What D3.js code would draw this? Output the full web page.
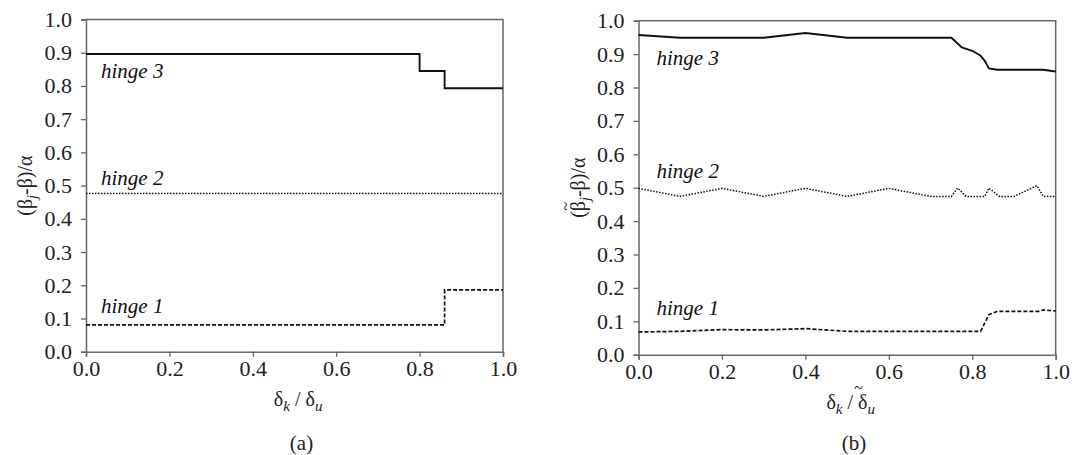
<!DOCTYPE html>
<html>
<head>
<meta charset="utf-8">
<script src="https://cdn.jsdelivr.net/npm/d3@7"></script>
</head>
<body style="margin:0">
<svg width="1072" height="455" font-family="Liberation Serif"></svg>
<script>
// panel (a): step curves
const aHinge3X = [0, 0.8, 0.8, 0.86, 0.86, 1.0];
const aHinge3Y = [0.896, 0.896, 0.845, 0.845, 0.793, 0.793];
const aHinge2X = [0, 1.0];
const aHinge2Y = [0.476, 0.476];
const aHinge1X = [0, 0.86, 0.86, 1.0];
const aHinge1Y = [0.081, 0.081, 0.186, 0.186];

// panel (b)
const bHinge3X = [0, 0.1, 0.3, 0.4, 0.5, 0.75, 0.775, 0.8, 0.82, 0.83, 0.84, 0.86, 0.97, 1.0];
const bHinge3Y = [0.957, 0.949, 0.949, 0.963, 0.949, 0.949, 0.92, 0.91, 0.895, 0.88, 0.857, 0.853, 0.853, 0.848];
const bHinge2X = [0, 0.1, 0.2, 0.3, 0.4, 0.5, 0.6, 0.7, 0.75, 0.765, 0.785, 0.83, 0.84, 0.865, 0.9, 0.955, 0.97, 1.0];
const bHinge2Y = [0.498, 0.474, 0.498, 0.474, 0.498, 0.474, 0.498, 0.474, 0.474, 0.499, 0.474, 0.474, 0.499, 0.474, 0.474, 0.506, 0.474, 0.474];
const bHinge1X = [0, 0.1, 0.2, 0.3, 0.4, 0.5, 0.6, 0.82, 0.84, 0.86, 0.96, 0.97, 1.0];
const bHinge1Y = [0.068, 0.07, 0.075, 0.074, 0.078, 0.07, 0.07, 0.07, 0.12, 0.13, 0.13, 0.134, 0.131];

const yTicks = [0, 0.1, 0.2, 0.3, 0.4, 0.5, 0.6, 0.7, 0.8, 0.9, 1.0];
const xTicks = [0, 0.2, 0.4, 0.6, 0.8, 1.0];

const svg = d3.select("svg");
const axisColor = "#666";
const serif = "Liberation Serif";
const textColor = "#222";

const font = (sel, size) =>
  sel.attr("font-family", serif).style("font-family", "'" + serif + "'").style("font-size", size + "px");

// width of a string in the label font, to place the tilde marks
const measure = (str, size) => {
  const t = svg.append("text").call(font, size).text(str);
  const w = t.node().getComputedTextLength();
  t.remove();
  return w;
};

const tilde = (g, x, y, transform) => {
  g.append("text")
    .attr("transform", transform)
    .attr("x", x)
    .attr("y", y)
    .attr("text-anchor", "middle")
    .attr("fill", textColor)
    .call(font, 16)
    .text("~");
};

const drawPanel = (p) => {
  const xScale = d3.scaleLinear().domain([0, 1]).range([p.left, p.right]);
  const yScale = d3.scaleLinear().domain([0, 1]).range([p.bottom, p.top]);
  const g = svg.append("g");

  // frame (top + right)
  g.append("path")
    .attr("d", "M" + p.left + "," + p.top + "H" + p.right + "V" + p.bottom)
    .attr("fill", "none")
    .attr("stroke", axisColor)
    .attr("stroke-width", 1.5);

  const xAxis = d3.axisBottom(xScale).tickValues(xTicks).tickFormat(d3.format(".1f")).tickSize(5).tickPadding(4);
  const gx = g.append("g").attr("transform", "translate(0," + p.bottom + ")").call(xAxis);
  const yAxis = d3.axisLeft(yScale).tickValues(yTicks).tickFormat(d3.format(".1f")).tickSize(5).tickPadding(9);
  const gy = g.append("g").attr("transform", "translate(" + p.left + ",0)").call(yAxis);
  [gx, gy].forEach((a) => {
    a.attr("font-family", serif).attr("font-size", 22);
    a.select(".domain").attr("stroke", axisColor).attr("stroke-width", 1.5);
    a.selectAll(".tick line").attr("stroke", axisColor).attr("stroke-width", 1.3);
    a.selectAll(".tick text").attr("fill", textColor).call(font, 22);
  });
  gx.selectAll(".tick text").attr("y", 9);

  const line = d3.line().x((d) => xScale(d[0])).y((d) => yScale(d[1]));
  const series = [
    { x: p.h3x, y: p.h3y, dash: null, w: 1.9 },
    { x: p.h2x, y: p.h2y, dash: "1.5,1.5", w: 1.5 },
    { x: p.h1x, y: p.h1y, dash: "4,2", w: 1.7 },
  ];
  series.forEach((s) => {
    g.append("path")
      .datum(d3.zip(s.x, s.y))
      .attr("d", line)
      .attr("fill", "none")
      .attr("stroke", "#111")
      .attr("stroke-width", s.w)
      .attr("stroke-dasharray", s.dash);
  });

  p.labels.forEach((l) => {
    g.append("text")
      .attr("x", p.left + p.labelDx)
      .attr("y", l[1])
      .call(font, 21)
      .attr("font-style", "italic")
      .style("font-style", "italic")
      .attr("fill", "#111")
      .text(l[0]);
  });

  // y label, built left to right so the tilde spot is known
  const ylT = "translate(" + p.yLabelX + "," + (p.top + p.bottom) / 2 + ") rotate(-90)";
  const total = measure("(β-β)/α", 20) + measure("j", 14);
  const x0 = -total / 2;
  const yl = g.append("text")
    .attr("transform", ylT)
    .attr("x", x0)
    .call(font, 20)
    .attr("fill", textColor);
  yl.append("tspan").text("(β");
  yl.append("tspan").attr("dy", 5).style("font-size", "14px").style("font-style", "italic").text("j");
  yl.append("tspan").attr("dy", -5).text("-β)/α");
  if (p.tilde) tilde(g, x0 + measure("(", 20) + measure("β", 20) / 2, -14, ylT);

  // x label
  const xTotal = measure("δ / δ", 20) + measure("ku", 15);
  const xx0 = (p.left + p.right) / 2 + 4 - xTotal / 2;
  const xy = p.bottom + 54;
  const xl = g.append("text")
    .attr("x", xx0)
    .attr("y", xy)
    .call(font, 20)
    .attr("fill", textColor);
  xl.append("tspan").text("δ");
  xl.append("tspan").attr("dy", 5).style("font-size", "15px").style("font-style", "italic").text("k");
  xl.append("tspan").attr("dy", -5).text(" / δ");
  xl.append("tspan").attr("dy", 5).style("font-size", "15px").style("font-style", "italic").text("u");
  if (p.tilde) tilde(g, xx0 + measure("δ / ", 20) + measure("k", 15) + measure("δ", 20) / 2, xy - 16, null);

  g.append("text")
    .attr("x", (p.left + p.right) / 2 + 7)
    .attr("y", 450)
    .attr("text-anchor", "middle")
    .call(font, 21)
    .attr("fill", textColor)
    .text(p.tag);
};

drawPanel({
  left: 86, right: 503, top: 19.5, bottom: 351.7,
  h3x: aHinge3X, h3y: aHinge3Y, h2x: aHinge2X, h2y: aHinge2Y, h1x: aHinge1X, h1y: aHinge1Y,
  labels: [["hinge 3", 78], ["hinge 2", 185], ["hinge 1", 313]], labelDx: 15,
  yLabelX: 32, tilde: false, tag: "(a)",
});

drawPanel({
  left: 638.5, right: 1055.7, top: 20.7, bottom: 354.7,
  h3x: bHinge3X, h3y: bHinge3Y, h2x: bHinge2X, h2y: bHinge2Y, h1x: bHinge1X, h1y: bHinge1Y,
  labels: [["hinge 3", 65], ["hinge 2", 178], ["hinge 1", 315]], labelDx: 18,
  yLabelX: 585, tilde: true, tag: "(b)",
});
</script>
</body>
</html>
